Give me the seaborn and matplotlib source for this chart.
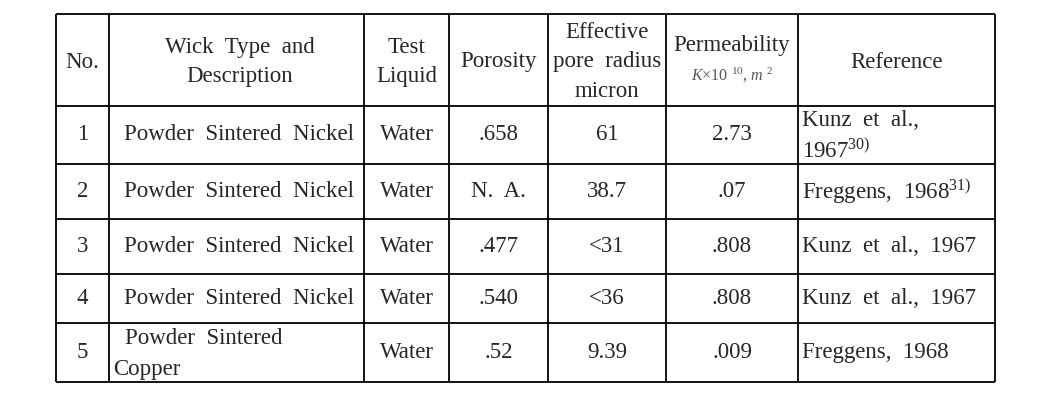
import matplotlib
matplotlib.use("Agg")
import matplotlib.pyplot as plt
import seaborn as sns

# table contents
headers = ["No.", "Wick  Type  and\nDescription", "Test\nLiquid", "Porosity",
           "Effective\npore  radius\nmicron", "Permeability", "Reference"]
nos = ["1", "2", "3", "4", "5"]
wick_types = ["Powder  Sintered  Nickel", "Powder  Sintered  Nickel",
              "Powder  Sintered  Nickel", "Powder  Sintered  Nickel",
              "Powder  Sintered\nCopper"]
liquids = ["Water", "Water", "Water", "Water", "Water"]
porosity = [".658", "N.  A.", ".477", ".540", ".52"]
pore_radius = ["61", "38.7", "<31", "<36", "9.39"]
permeability = ["2.73", ".07", ".808", ".808", ".009"]
references = ["Kunz  et  al.,\n1967$^{\\mathrm{30)}}$", "Freggens,  1968$^{\\mathrm{31)}}$",
              "Kunz  et  al.,  1967", "Kunz  et  al.,  1967", "Freggens,  1968"]

# grid geometry (pixels)
col_edges = [56, 109, 364, 449, 548, 666, 798, 995]
row_edges = [14, 106, 164, 219, 274, 323, 382]

sns.set_style("white")
plt.rcParams['font.family'] = ['Liberation Serif', 'DejaVu Serif']
plt.rcParams['mathtext.fontset'] = 'custom'
plt.rcParams['mathtext.rm'] = 'Liberation Serif'
plt.rcParams['mathtext.it'] = 'Liberation Serif:italic'

fig = plt.figure(figsize=(10.63, 4.07), dpi=100)
ax = fig.add_axes([0, 0, 1, 1])
ax.set_xlim(0, 1063)
ax.set_ylim(407, 0)
ax.axis('off')

lw = 1.3
ax.hlines(row_edges, col_edges[0], col_edges[-1], colors='black', linewidth=lw)
ax.vlines(col_edges, row_edges[0], row_edges[-1], colors='black', linewidth=lw)

fs = 16.5
centers = [(col_edges[i] + col_edges[i + 1]) / 2 for i in range(len(col_edges) - 1)]
centers[1] += 3
mids = [(row_edges[i] + row_edges[i + 1]) / 2 for i in range(len(row_edges) - 1)]

# header
for i, h in enumerate(headers):
    if h == "Permeability":
        ax.text(centers[i], 46, h, ha='center', va='center', fontsize=fs)
        ax.text(centers[i], 75, "$K$×10 $^{10}$, $m$ $^{2}$", ha='center', va='center',
                fontsize=11.5, color='#555555')
    else:
        ax.text(centers[i], mids[0] + 2, h, ha='center', va='center', fontsize=fs,
                linespacing=1.52)

# body
columns = [nos, wick_types, liquids, porosity, pore_radius, permeability]
for r in range(len(nos)):
    y = mids[r + 1]
    for c, col in enumerate(columns):
        val = col[r]
        if c == 1 and "\n" in val:
            first, second = val.split("\n")
            ax.text(125, y - 14, first, ha='left', va='center', fontsize=fs)
            ax.text(113, y + 17, second, ha='left', va='center', fontsize=fs)
        else:
            ax.text(centers[c], y, val, ha='center', va='center', fontsize=fs)
    ref = references[r]
    if "\n" in ref:
        first, second = ref.split("\n")
        ax.text(802, y - 14, first, ha='left', va='center', fontsize=fs)
        ax.text(802, y + 16, second, ha='left', va='center', fontsize=fs)
    else:
        ax.text(802, y, ref, ha='left', va='center', fontsize=fs)

fig.savefig("out.png", dpi=100, facecolor='white')
